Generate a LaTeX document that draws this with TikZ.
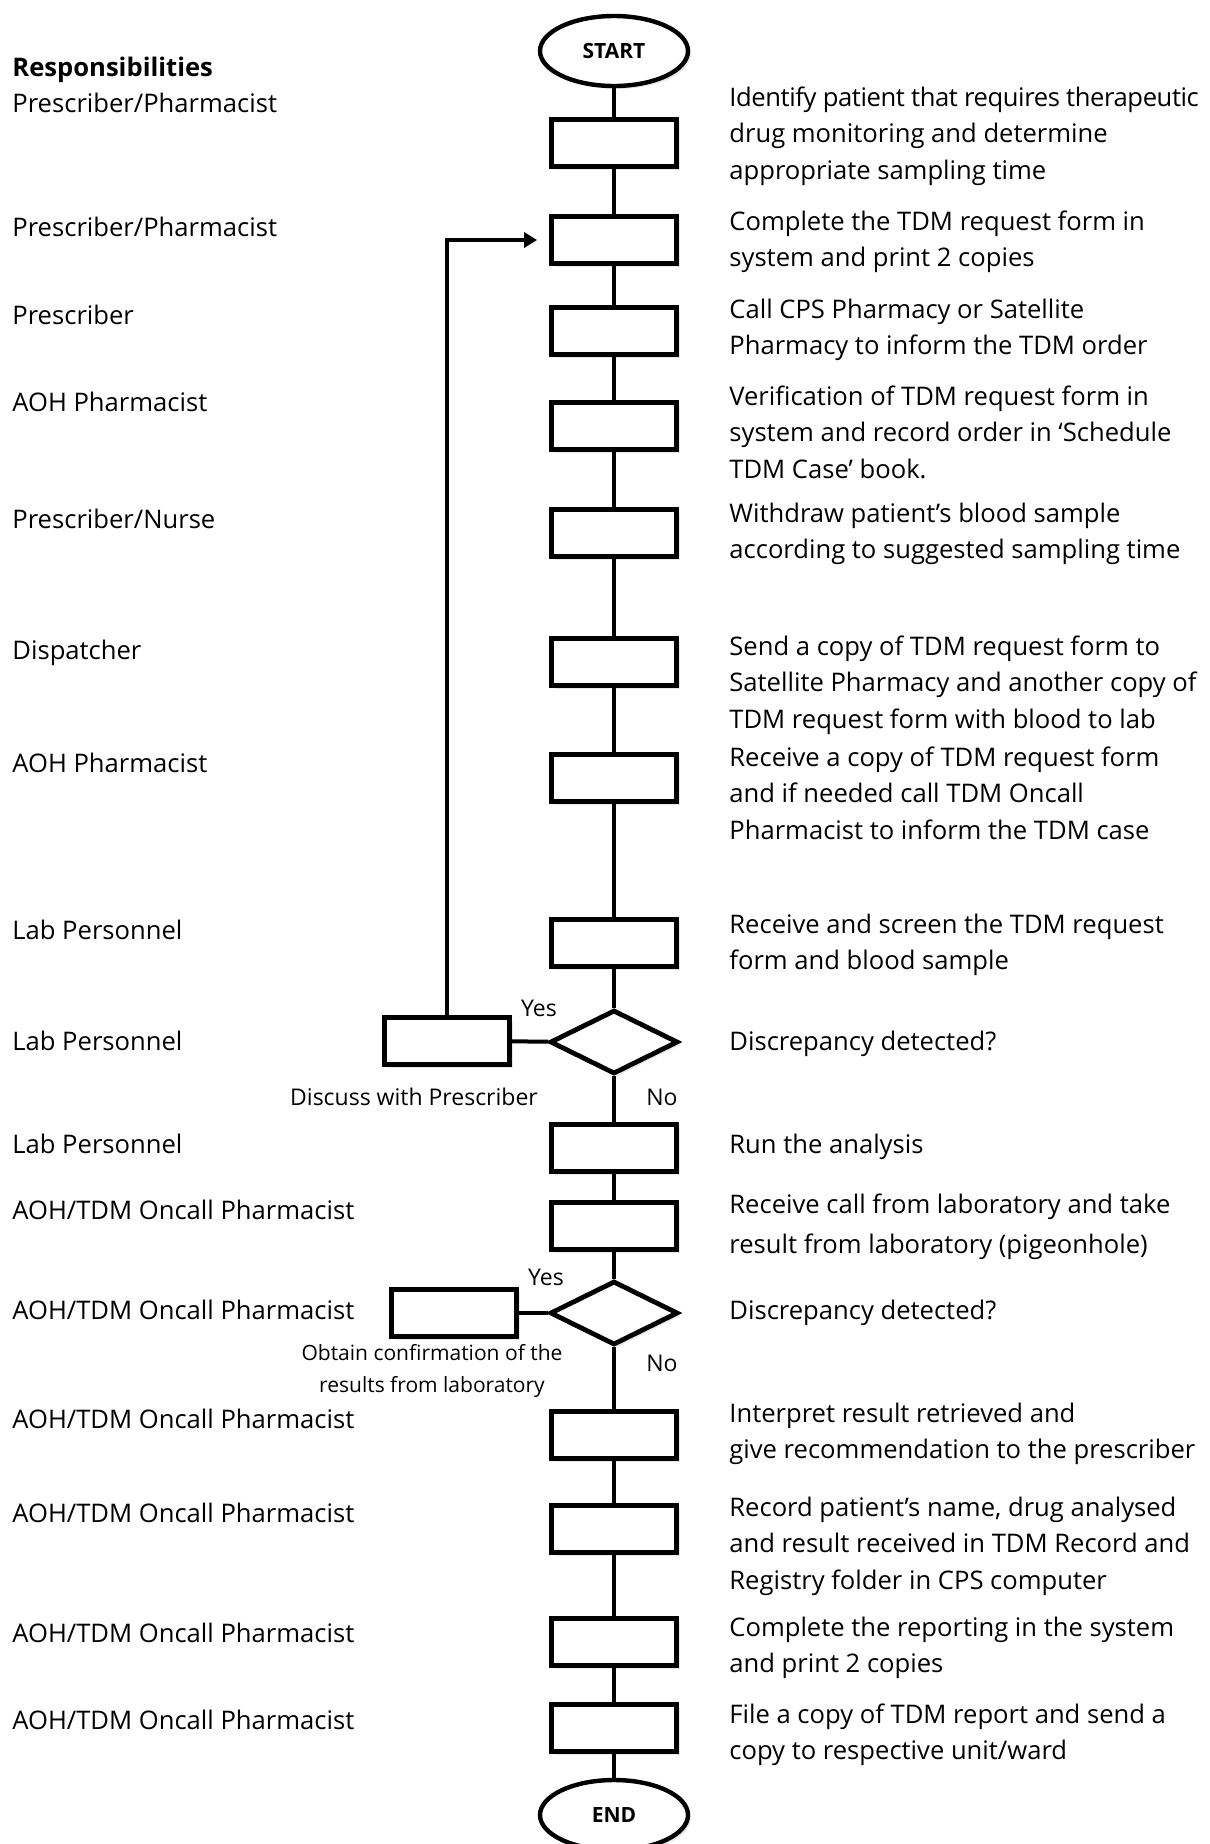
\documentclass[tikz,border=0pt]{standalone}
\usepackage{fontspec}
\setmainfont{Open Sans}
\usetikzlibrary{shapes.geometric,arrows.meta,shadows}
\tikzset{
  shd/.style={drop shadow={opacity=.18,shadow xshift=1.5pt,shadow yshift=-1.5pt}},
  box/.style={draw,line width=2.4pt,fill=white,minimum width=62.5pt,minimum height=23.5pt,inner sep=0pt,shd},
  dec/.style={draw,diamond,line width=2.4pt,fill=white,minimum width=64pt,minimum height=32pt,inner sep=0pt,shd},
  term/.style={draw,ellipse,line width=2.2pt,fill=white,minimum width=74pt,minimum height=35pt,inner sep=0pt,font=\fontsize{10.5}{12}\selectfont\bfseries,shd},
  % first baseline sits on the given point
  txt/.style={anchor=north west,yshift=12.775pt,align=left,inner sep=0pt,font=\fontsize{12.8}{18.25}\selectfont,execute at begin node=\strut},
  lbl/.style={inner sep=0pt,font=\fontsize{11.5}{14}\selectfont},
  line/.style={line width=2pt}
}
\begin{document}
\begin{tikzpicture}[x=0.5pt,y=-0.5pt]
\useasboundingbox (0,0) rectangle (1210,1844);
% responsibilities
\node[txt,font=\fontsize{12.8}{18.25}\selectfont\bfseries] (head) at (12,76) {Responsibilities};
\foreach \y/\t [count=\i] in {112/{Prescriber/Pharmacist},236/{Prescriber/Pharmacist},324/Prescriber,
  411/AOH Pharmacist,528/{Prescriber/Nurse},659/Dispatcher,772/AOH Pharmacist,939/Lab Personnel,
  1050/Lab Personnel,1153/Lab Personnel,1219/{AOH/TDM Oncall Pharmacist},1319/{AOH/TDM Oncall Pharmacist},
  1428/{AOH/TDM Oncall Pharmacist},1522/{AOH/TDM Oncall Pharmacist},1642/{AOH/TDM Oncall Pharmacist},
  1729/{AOH/TDM Oncall Pharmacist}}
\node[txt] (l\i) at (12,\y) {\t};
% flow
\node[term] (start) at (614,51) {START};
\foreach \y [count=\i] in {143,240,331,426,533,662,778,943}
\node[box] (b\i) at (614,\y) {};
\node[dec] (d1) at (614,1042) {};
\node[box] (b9) at (614,1148) {};
\node[box] (b10) at (614,1226) {};
\node[dec] (d2) at (614,1313) {};
\foreach \y [count=\i from 11] in {1435,1529,1642,1728}
\node[box] (b\i) at (614,\y) {};
\node[term] (end) at (614,1815) {END};
\node[box] (s1) at (447,1041) {};
\node[box] (s2) at (454,1313) {};
\draw[line] (start) -- (b1) -- (b2) -- (b3) -- (b4) -- (b5) -- (b6) -- (b7) -- (b8) -- (d1) -- (b9)
  -- (b10) -- (d2) -- (b11) -- (b12) -- (b13) -- (b14) -- (end);
\draw[line] (d1) -- (s1);
\draw[line] (d2) -- (s2);
\draw[line,-{Triangle[length=6.5pt,width=7.5pt]}] (s1.north) |- ([xshift=-6pt]b2.west);
\node[lbl] (y1) at (539,1008) {Yes};
\node[lbl] (n1) at (662,1097) {No};
\node[lbl] (c1) at (414,1097) {Discuss with Prescriber};
\node[lbl] (y2) at (546,1277) {Yes};
\node[lbl] (n2) at (662,1363) {No};
\node[lbl,align=center,font=\fontsize{10.5}{16}\selectfont] (c2) at (432,1371) {Obtain confirmation of the\\results from laboratory};
% steps
\node[txt] (r1) at (729,112) {{\addfontfeature{LetterSpace=-1.6}Identify patient that requires therapeutic}\\drug monitoring and determine\\appropriate sampling time};
\node[txt] (r2) at (729,236) {Complete the TDM request form in\\system and print 2 copies};
\node[txt] (r3) at (729,324) {Call CPS Pharmacy or Satellite\\Pharmacy to inform the TDM order};
\node[txt] (r4) at (729,411) {Verification of TDM request form in\\system and record order in ‘Schedule\\TDM Case’ book.};
\node[txt] (r5) at (729,528) {Withdraw patient’s blood sample\\according to suggested sampling time};
\node[txt] (r6) at (729,661) {Send a copy of TDM request form to\\Satellite Pharmacy and another copy of\\TDM request form with blood to lab};
\node[txt] (r7) at (729,772) {Receive a copy of TDM request form\\and if needed call TDM Oncall\\Pharmacist to inform the TDM case};
\node[txt] (r8) at (729,939) {Receive and screen the TDM request\\form and blood sample};
\node[txt] (r9) at (729,1050) {Discrepancy detected?};
\node[txt] (r10) at (729,1153) {Run the analysis};
\node[txt] (r11) at (729,1219) {Receive call from laboratory and take\\[2pt]result from laboratory (pigeonhole)};
\node[txt] (r12) at (729,1319) {Discrepancy detected?};
\node[txt] (r13) at (729,1428) {Interpret result retrieved and\\give recommendation to the prescriber};
\node[txt] (r14) at (729,1522) {Record patient’s name, drug analysed\\and result received in TDM Record and\\Registry folder in CPS computer};
\node[txt] (r15) at (729,1642) {Complete the reporting in the system\\and print 2 copies};
\node[txt] (r16) at (729,1729) {File a copy of TDM report and send a\\copy to respective unit/ward};
\end{tikzpicture}
\end{document}
